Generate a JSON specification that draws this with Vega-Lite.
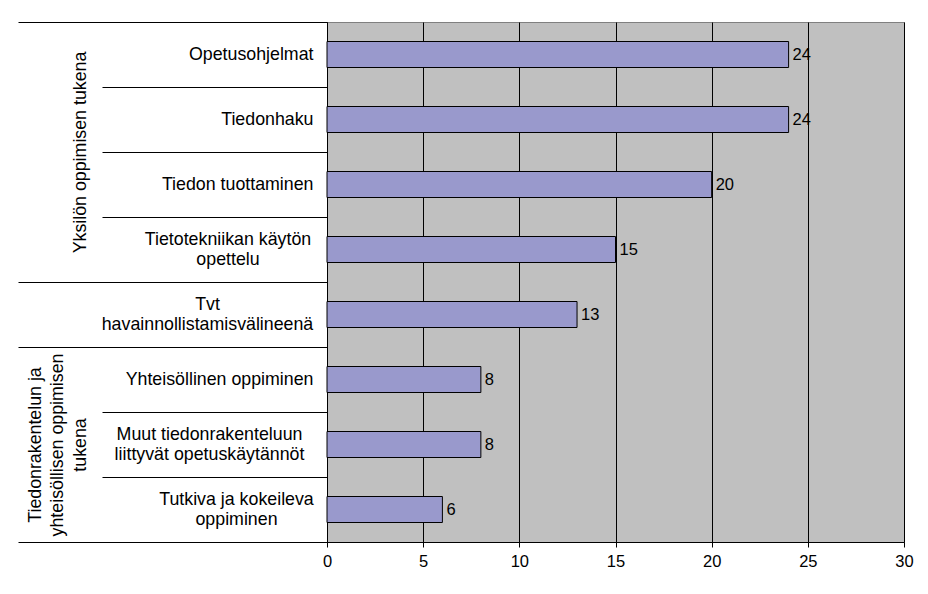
{
  "$schema": "https://vega.github.io/schema/vega-lite/v6.json",
  "width": 577,
  "height": 520,
  "autosize": {"type": "none"},
  "padding": {"left": 327, "top": 22, "right": 24, "bottom": 52},
  "background": "white",
  "config": {
    "font": "Liberation Sans",
    "view": {"fill": "#C0C0C0", "stroke": "#808080", "strokeWidth": 1}
  },
  "data": {
    "values": [
      {"kategoria": "Opetusohjelmat", "ryhma": "Yksilön oppimisen tukena", "lkm": 24},
      {"kategoria": "Tiedonhaku", "ryhma": "Yksilön oppimisen tukena", "lkm": 24},
      {"kategoria": "Tiedon tuottaminen", "ryhma": "Yksilön oppimisen tukena", "lkm": 20},
      {"kategoria": "Tietotekniikan käytön opettelu", "ryhma": "Yksilön oppimisen tukena", "lkm": 15},
      {"kategoria": "Tvt havainnollistamisvälineenä", "ryhma": "", "lkm": 13},
      {"kategoria": "Yhteisöllinen oppiminen", "ryhma": "Tiedonrakentelun ja yhteisöllisen oppimisen tukena", "lkm": 8},
      {"kategoria": "Muut tiedonrakenteluun liittyvät opetuskäytännöt", "ryhma": "Tiedonrakentelun ja yhteisöllisen oppimisen tukena", "lkm": 8},
      {"kategoria": "Tutkiva ja kokeileva oppiminen", "ryhma": "Tiedonrakentelun ja yhteisöllisen oppimisen tukena", "lkm": 6}
    ]
  },
  "encoding": {
    "x": {
      "field": "lkm",
      "type": "quantitative",
      "scale": {"domain": [0, 30], "nice": false, "zero": true},
      "axis": {
        "orient": "bottom",
        "title": null,
        "values": [0, 5, 10, 15, 20, 25, 30],
        "grid": true,
        "gridColor": "#000000",
        "gridWidth": 1,
        "domainColor": "#000000",
        "domainWidth": 1,
        "tickColor": "#000000",
        "tickSize": 5,
        "labelFontSize": 16.5,
        "labelColor": "#000000",
        "labelPadding": 6,
        "labelFlush": false
      }
    }
  },
  "layer": [
    {
      "mark": {"type": "bar", "height": {"band": 0.4}, "fill": "#9999CC", "stroke": "#000000", "strokeWidth": 1},
      "encoding": {
        "y": {
          "field": "kategoria",
          "type": "nominal",
          "sort": null,
          "scale": {"paddingInner": 0, "paddingOuter": 0},
          "axis": {
            "orient": "left",
            "title": ["Tiedonrakentelun ja", "yhteisöllisen oppimisen", "tukena"],
            "titleX": -292,
            "titleY": 422.5,
            "titleAngle": 270,
            "titleAlign": "center",
            "titleBaseline": "middle",
            "titleFontSize": 17.8,
            "titleFontWeight": "normal",
            "titleColor": "#000000",
            "titleLineHeight": 22.5,
            "ticks": false,
            "domain": true,
            "domainColor": "#000000",
            "domainWidth": 1,
            "labelFontSize": 17.8,
            "labelColor": "#000000",
            "labelLimit": 0,
            "labelOverlap": false,
            "labelLineHeight": 20,
            "labelBaseline": "middle",
            "labelAlign": {
              "condition": {"test": "indexof(['Tietotekniikan käytön opettelu', 'Tvt havainnollistamisvälineenä', 'Muut tiedonrakenteluun liittyvät opetuskäytännöt', 'Tutkiva ja kokeileva oppiminen'], datum.value) >= 0", "value": "center"},
              "value": "right"
            },
            "labelOffset": {
              "condition": {"test": "indexof(['Tietotekniikan käytön opettelu', 'Tvt havainnollistamisvälineenä', 'Muut tiedonrakenteluun liittyvät opetuskäytännöt', 'Tutkiva ja kokeileva oppiminen'], datum.value) >= 0", "value": -10},
              "value": 0
            },
            "labelPadding": {
              "condition": [
                {"test": "datum.value == 'Tietotekniikan käytön opettelu'", "value": 99.5},
                {"test": "datum.value == 'Tvt havainnollistamisvälineenä'", "value": 120},
                {"test": "datum.value == 'Muut tiedonrakenteluun liittyvät opetuskäytännöt'", "value": 118},
                {"test": "datum.value == 'Tutkiva ja kokeileva oppiminen'", "value": 91}
              ],
              "value": 14
            },
            "labelExpr": "datum.value == 'Tietotekniikan käytön opettelu' ? ['Tietotekniikan käytön', 'opettelu'] : datum.value == 'Tvt havainnollistamisvälineenä' ? ['Tvt', 'havainnollistamisvälineenä'] : datum.value == 'Muut tiedonrakenteluun liittyvät opetuskäytännöt' ? ['Muut tiedonrakenteluun', 'liittyvät opetuskäytännöt'] : datum.value == 'Tutkiva ja kokeileva oppiminen' ? ['Tutkiva ja kokeileva', 'oppiminen'] : datum.label"
          }
        }
      }
    },
    {
      "mark": {"type": "text", "align": "left", "baseline": "middle", "dx": 4, "fontSize": 16.5, "color": "#000000"},
      "encoding": {
        "text": {"field": "lkm", "type": "quantitative"},
        "y": {
          "field": "kategoria",
          "type": "nominal",
          "sort": null,
          "axis": {
            "orient": "left",
            "title": "Yksilön oppimisen tukena",
            "titleX": -247,
            "titleY": 130,
            "titleAngle": 270,
            "titleAlign": "center",
            "titleBaseline": "middle",
            "titleFontSize": 17.8,
            "titleFontWeight": "normal",
            "titleColor": "#000000",
            "labels": false,
            "domain": false,
            "ticks": true,
            "tickBand": "extent",
            "tickColor": "#000000",
            "tickWidth": 1,
            "tickSize": {
              "condition": {"test": "datum.extra || datum.value == 'Tietotekniikan käytön opettelu' || datum.value == 'Tvt havainnollistamisvälineenä' || datum.value == 'Tutkiva ja kokeileva oppiminen'", "value": 309},
              "value": 225
            }
          }
        }
      }
    }
  ],
  "resolve": {"axis": {"y": "independent"}}
}
